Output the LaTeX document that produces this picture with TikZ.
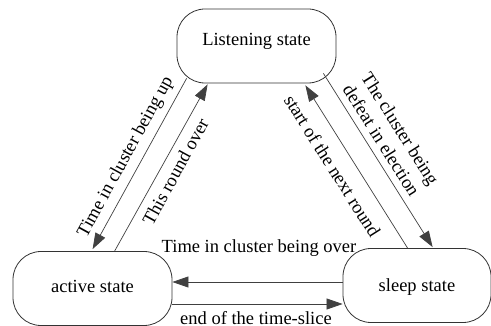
\documentclass[tikz,border=0pt]{standalone}
\usepackage{fontspec}
\setmainfont{Liberation Serif}
\usetikzlibrary{arrows.meta}
\begin{document}
\begin{tikzpicture}[x=1pt,y=-1pt,
  txt/.style={font=\fontsize{18.5}{22.2}\selectfont},
  state/.style={txt, draw=black!80, line width=0.8pt, rounded corners=28pt,
    minimum height=74pt, inner sep=0pt},
  arr/.style={draw=black!75, line width=0.7pt, -{Triangle[length=16pt,width=11pt]}},
  lbl/.style={txt, inner sep=0pt, align=center}]
\useasboundingbox (0,0) rectangle (491,326);
\node[state, minimum width=159pt, text height=8pt, text depth=8pt] (L) at (256.5,46) {Listening state};
\node[state, minimum width=159pt, text height=12pt, text depth=3pt] (A) at (92.5,288.5) {active state};
\node[state, minimum width=148pt, text height=13pt, text depth=0pt] (S) at (417,285.5) {sleep state};
% left pair
\draw[arr] ([xshift=10pt,yshift=5pt]L.south west) -- ([xshift=80pt,yshift=2pt]A.north west);
\draw[arr] ([xshift=102pt]A.north west) -- ([xshift=31pt,yshift=-1pt]L.south west);
% right pair
\draw[arr] ([xshift=-13pt,yshift=10pt]L.south east) -- ([xshift=90pt,yshift=1pt]S.north west);
\draw[arr] ([xshift=65pt]S.north west) -- ([xshift=-31pt,yshift=-2pt]L.south east);
% horizontal
\draw[arr] ([yshift=3.5pt]S.west) -- ([yshift=6.5pt]A.east);
\draw[arr] ([yshift=-15.5pt]A.east) -- ([yshift=-18.5pt]S.west);
% labels
\node[lbl, rotate=61.3] (l1) at (126,157) {Time in cluster being up};
\node[lbl, rotate=61.3] (l2) at (175.5,171.5) {This round over};
\node[lbl, rotate=-57.7] (l3) at (391,134.5) {The cluster being\\defeat in election};
\node[lbl, rotate=-57.7] (l4) at (332.5,166) {start of the next round};
\node[lbl] (l5) at (259,248) {Time in cluster being over};
\node[lbl] (l6) at (256,318) {end of the time-slice};
\end{tikzpicture}
\end{document}
